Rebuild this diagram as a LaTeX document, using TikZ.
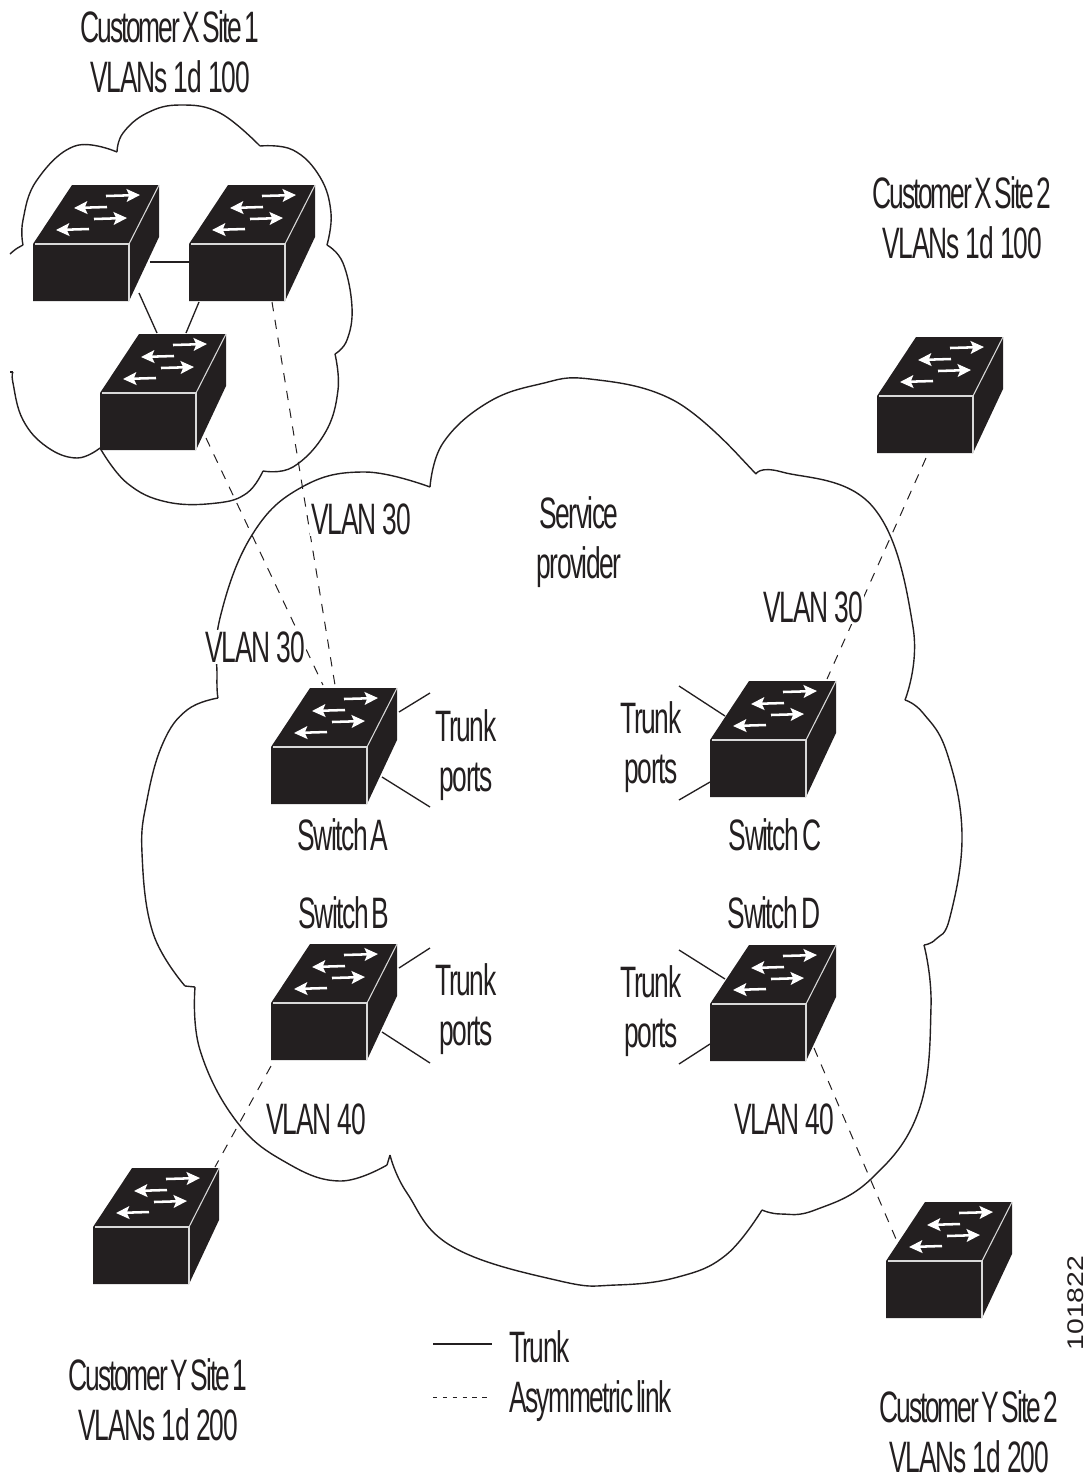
\documentclass[tikz,border=0pt]{standalone}
\usepackage{fontspec}
\setmainfont{Liberation Sans}[FakeStretch=0.60,LetterSpace=-3.4,WordSpace=0.5]
\newfontfamily\vlanf{Liberation Sans}[FakeStretch=0.60,LetterSpace=-2.6,WordSpace=1.0]
\newfontfamily\custf{Liberation Sans}[FakeStretch=0.60,LetterSpace=-4.8,WordSpace=0.5]
\newfontfamily\idfont{Liberation Sans}[FakeStretch=1.25]
\usetikzlibrary{arrows.meta}
\definecolor{ink}{HTML}{231F20}
\tikzset{
  cloudline/.style={ink,line width=1.05pt,line join=round},
  trunk/.style={ink,line width=1pt},
  asym/.style={ink,line width=.75pt,dash pattern=on 7pt off 6.5pt},
  legasym/.style={ink,line width=.75pt,dash pattern=on 3.2pt off 4.2pt},
  swfront/.style={fill=ink,draw=none,inner sep=0pt,outer sep=0pt,minimum width=72pt,minimum height=43pt,anchor=north west},
  swedge/.style={white!85!black,line width=.8pt},
  swarrow/.style={white,line width=1.9pt,-{Stealth[length=10pt,width=9.5pt,inset=2pt]}},
  lbl/.style={ink,inner sep=0pt,outer sep=0pt,font=\fontsize{33}{36.8}\selectfont,align=center,anchor=base},
  lbw/.style={lbl,fill=white,inner xsep=1pt,inner ysep=1pt},
  lbleft/.style={lbl,anchor=base west}
}
\newcommand{\swt}[3]{%
  \begin{scope}[shift={(#2,#3)}]
    \fill[ink] (0,0) -- (39,-59) -- (126,-59) -- (126,-7) -- (96,57) -- (0,57) -- cycle;
    \node[swfront] (#1) at (0,0) {};
    \draw[swedge] (2,0) -- (96,0) -- (96,57);
    \draw[swedge] (96,0) -- (126,-59);
    \draw[swarrow] (73,-48) -- (107,-49);
    \draw[swarrow] (74,-37) -- (41,-36);
    \draw[swarrow] (61,-25) -- (94,-26);
    \draw[swarrow] (56,-15) -- (23,-14);
  \end{scope}}
\begin{document}
\begin{tikzpicture}[x=.75pt,y=-.75pt]
\useasboundingbox (0,0) rectangle (1090,1479);
% small cloud
\draw[cloudline] plot[smooth,tension=.6] coordinates {(10,254)(16,249)(23,245)};
\draw[cloudline] plot[smooth,tension=.7] coordinates {(23,245)(23,220)(37,180)(75,146)(117,152)};
\draw[cloudline] plot[smooth,tension=.7] coordinates {(117,152)(123,133)(147,113)(180,105)(220,113)(260,146)};
\draw[cloudline] plot[smooth,tension=.7] coordinates {(260,146)(293,150)(320,177)(331,213)(327,245)};
\draw[cloudline] plot[smooth,tension=.7] coordinates {(327,245)(343,263)(352,307)(347,340)(335,354)};
\draw[cloudline] plot[smooth,tension=.7] coordinates {(335,354)(338,390)(325,433)(293,467)(263,471)};
\draw[cloudline] plot[smooth,tension=.7] coordinates {(263,471)(247,493)(217,503)(167,502)(127,483)(100,448)};
\draw[cloudline] plot[smooth,tension=.7] coordinates {(100,448)(77,458)(47,447)(23,420)(13,383)(13,372)};
\draw[cloudline] (13,372) -- (10,372);
% large cloud
\draw[cloudline] plot[smooth,tension=.7] coordinates {(218,698)(217,677)(220,618)(252,535)(302,487)(365,472)(430,487)};
\draw[cloudline] plot[smooth,tension=.7] coordinates {(430,487)(443,443)(487,403)(540,384)(590,379)(673,400)(740,457)};
\draw[cloudline] (740,457) -- (756,474);
\draw[cloudline] plot[smooth,tension=.7] coordinates {(756,474)(782,472)(873,507)(913,627)(905,700)};
\draw[cloudline] plot[smooth,tension=.7] coordinates {(905,700)(923,713)(947,753)(962,834)(950,917)(936,939)(924,945)};
\draw[cloudline] plot[smooth,tension=.7] coordinates {(924,945)(931,1007)(919,1110)(871,1179)(815,1210)(781,1214)(762,1210)};
\draw[cloudline] plot[smooth,tension=.7] coordinates {(762,1210)(726,1255)(678,1277)(616,1285)(560,1281)(453,1247)(407,1193)(390,1155)};
\draw[cloudline] (390,1155) -- (387,1165);
\draw[cloudline] plot[smooth,tension=.7] coordinates {(387,1165)(340,1181)(287,1163)(237,1122)(200,1050)(195,987)};
\draw[cloudline] (195,987) -- (185,986);
\draw[cloudline] plot[smooth,tension=.7] coordinates {(185,986)(153,933)(142,853)(147,800)(163,743)(187,710)(218,698)};
% switches
\swt{xa}{33}{244}
\swt{xb}{189}{244}
\swt{xc}{100}{393}
\swt{xtwo}{877}{396}
\swt{swa}{271}{747}
\swt{swb}{271}{1003}
\swt{swc}{710}{740}
\swt{swd}{710}{1004}
\swt{yone}{93}{1227}
\swt{ytwo}{886}{1261}
% free ends
\coordinate (ta1) at (430,693);
\coordinate (ta2) at (430,807);
\coordinate (tb1) at (430,948);
\coordinate (tb2) at (430,1063);
\coordinate (tc1) at (679,686);
\coordinate (tc2) at (679,800);
\coordinate (td1) at (679,950);
\coordinate (td2) at (679,1064);
\coordinate (legt1) at (433,1344);
\coordinate (legt2) at (492,1344);
\coordinate (lega1) at (433,1397);
\coordinate (lega2) at (492,1397);
% trunks
\draw[trunk] ([shift={(117,18)}]xa.north west) -- ([shift={(0,18)}]xb.north west);
\draw[trunk] ([shift={(106,49)}]xa.north west) -- ([shift={(57,-60)}]xc.north west);
\draw[trunk] ([shift={(10,58)}]xb.north west) -- ([shift={(86,-60)}]xc.north west);
\draw[trunk] ([shift={(128,-35)}]swa.north west) -- (ta1);
\draw[trunk] ([shift={(111,30)}]swa.north west) -- (ta2);
\draw[trunk] ([shift={(128,-35)}]swb.north west) -- (tb1);
\draw[trunk] ([shift={(111,29)}]swb.north west) -- (tb2);
\draw[trunk] ([shift={(15,-24)}]swc.north west) -- (tc1);
\draw[trunk] ([shift={(0,42)}]swc.north west) -- (tc2);
\draw[trunk] ([shift={(15,-25)}]swd.north west) -- (td1);
\draw[trunk] ([shift={(0,40)}]swd.north west) -- (td2);
% asymmetric links
\draw[asym] ([shift={(83,58)}]xb.north west) -- ([shift={(64,-62)}]swa.north west);
\draw[asym] ([shift={(106,45)}]xc.north west) -- ([shift={(52,-62)}]swa.north west);
\draw[asym] ([shift={(49,62)}]xtwo.north west) -- ([shift={(117,-61)}]swc.north west);
\draw[asym] ([shift={(0,63)}]swb.north west) -- ([shift={(122,-60)}]yone.north west);
\draw[asym] ([shift={(104,44)}]swd.north west) -- ([shift={(10,-22)}]ytwo.north west);
% labels
\node[lbl] (lx1) at (170,92) {{\custf Customer X Site 1}\\{\vlanf VLANs 1d 100}};
\node[lbl] (lx2) at (962,258) {{\custf Customer X Site 2}\\{\vlanf VLANs 1d 100}};
\node[lbl] (lsp) at (579,578) {Service\\provider};
\node[lbw,font=\vlanf\fontsize{33}{36.8}\selectfont] (v1) at (361,534) {VLAN 30};
\node[lbw,font=\vlanf\fontsize{33}{36.8}\selectfont] (v2) at (255,662) {VLAN 30};
\node[lbw,font=\vlanf\fontsize{33}{36.8}\selectfont] (v3) at (813,622) {VLAN 30};
\node[lbl,font=\vlanf\fontsize{33}{36.8}\selectfont] (v4) at (316,1134) {VLAN 40};
\node[lbl,font=\vlanf\fontsize{33}{36.8}\selectfont] (v5) at (784,1134) {VLAN 40};
\node[lbl] (pa) at (466,791) {Trunk\\ports};
\node[lbl] (pb) at (466,1045) {Trunk\\ports};
\node[lbl] (pc) at (651,783) {Trunk\\ports};
\node[lbl] (pd) at (651,1047) {Trunk\\ports};
\node[lbl] (sa) at (343,850) {Switch A};
\node[lbl] (sc) at (775,850) {Switch C};
\node[lbl] (sb) at (344,928) {Switch B};
\node[lbl] (sd) at (774,928) {Switch D};
\node[lbl] (ly1) at (158,1440) {{\custf Customer Y Site 1}\\{\vlanf VLANs 1d 200}};
\node[lbl] (ly2) at (969,1472) {{\custf Customer Y Site 2}\\{\vlanf VLANs 1d 200}};
\draw[trunk] (legt1) -- (legt2);
\draw[legasym] (lega1) -- (lega2);
\node[lbleft] (lt) at (509,1362) {Trunk};
\node[lbleft] (la) at (509,1412) {Asymmetric link};
\node[ink,rotate=90,inner sep=0pt,font=\idfont\fontsize{17}{20}\selectfont,anchor=base] (fig) at (1083,1303) {101822};
\end{tikzpicture}
\end{document}
